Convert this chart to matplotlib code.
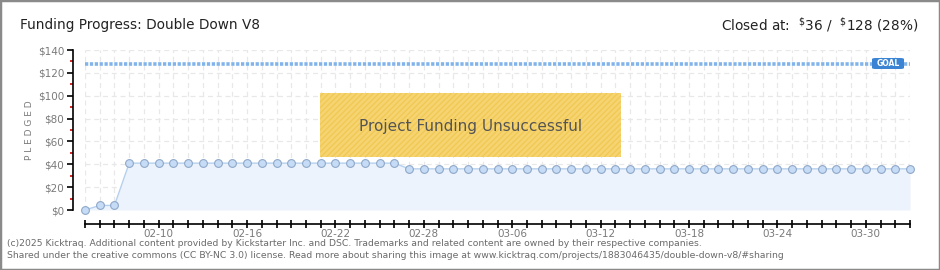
import matplotlib
matplotlib.use("Agg")
import matplotlib.pyplot as plt
import matplotlib.dates as mdates
from matplotlib.patches import Rectangle, FancyBboxPatch
import numpy as np
import pandas as pd

# ---- data ----
start_date = "2025-02-05"
pledged = [0, 4, 4,
           41, 41, 41, 41, 41, 41, 41, 41, 41, 41, 41, 41, 41, 41, 41, 41, 41, 41, 41,
           36, 36, 36, 36, 36, 36, 36, 36, 36, 36, 36, 36, 36, 36, 36, 36, 36, 36, 36,
           36, 36, 36, 36, 36, 36, 36, 36, 36, 36, 36, 36, 36, 36, 36, 36]
goal = 128
tick_labels = ["02-10", "02-16", "02-22", "02-28", "03-06", "03-12", "03-18", "03-24", "03-30"]
y_ticks = [0, 20, 40, 60, 80, 100, 120, 140]
title = "Funding Progress: Double Down V8"
closed_text = r"Closed at:  $^{\$}$36 /  $^{\$}$128 (28%)"
banner = "Project Funding Unsuccessful"
footer1 = ("(c)2025 Kicktraq. Additional content provided by Kickstarter Inc. and DSC. "
           "Trademarks and related content are owned by their respective companies.")
footer2 = ("Shared under the creative commons (CC BY-NC 3.0) license. Read more about sharing "
           "this image at www.kicktraq.com/projects/1883046435/double-down-v8/#sharing")

dates = pd.date_range(start_date, periods=len(pledged), freq="D")
xd = mdates.date2num(dates.to_pydatetime())
tick_dates = [mdates.date2num(pd.Timestamp("2025-" + t).to_pydatetime()) for t in tick_labels]

W, H = 940, 270
fig = plt.figure(figsize=(W / 100, H / 100), dpi=100)
fig.patch.set_facecolor("white")

L, R, T, B = 85, 910, 50, 210
ax = fig.add_axes([L / W, 1 - B / H, (R - L) / W, (B - T) / H])
ax.set_facecolor("none")
ax.set_xlim(xd[0], xd[-1])
ax.set_ylim(0, 140)

# grid
for x in xd:
    ax.axvline(x, color="#e8e8e8", lw=0.9, ls=(0, (4, 3)), zorder=0)
for y in y_ticks:
    ax.axhline(y, color="#e8e8e8", lw=0.9, ls=(0, (4, 3)), zorder=0)

# fill + line + markers
ax.fill_between(xd, pledged, 0, color="#ecf3fc", zorder=1, lw=0)
ax.plot(xd, pledged, color="#b5d0ee", lw=1, zorder=2, clip_on=False)
ax.plot(xd, pledged, ls="none", marker="o", ms=5.6, mfc="#c6dcf6", mec="#8fa8c8",
        mew=0.8, zorder=3, clip_on=False)

# goal line
ax.plot([xd[0], xd[-1]], [goal, goal], color="#82b4ea", lw=2.6,
        ls=(0, (0.9, 0.45)), zorder=2, clip_on=False)

# spines
for s in ["top", "right"]:
    ax.spines[s].set_visible(False)
ax.spines["left"].set_position(("outward", 9))
ax.spines["bottom"].set_position(("outward", 10))
ax.spines["left"].set_color("black")
ax.spines["bottom"].set_color("black")
ax.spines["left"].set_linewidth(1.2)
ax.spines["bottom"].set_linewidth(1.2)

ax.set_yticks(y_ticks)
ax.set_yticklabels(["\\$%d" % v for v in y_ticks])
ax.set_yticks([10, 30, 50, 70, 90, 110, 130], minor=True)
ax.tick_params(axis="y", which="major", length=4, width=1.2, color="black",
               labelsize=7.5, labelcolor="#7a7a7a", pad=2)
ax.tick_params(axis="y", which="minor", length=2.5, width=1.2, color="#dd0000")

ax.set_xticks(tick_dates)
ax.set_xticklabels(tick_labels)
ax.set_xticks(xd, minor=True)
ax.tick_params(axis="x", which="both", direction="inout", length=6, width=1.2,
               color="black", labelsize=7.5, labelcolor="#7a7a7a", pad=1)

ax.set_ylabel("P L E D G E D", fontsize=6.5, color="#7a7a7a", labelpad=3)

# banner
fig.patches.append(Rectangle((320 / W, 1 - 157 / H), 301 / W, 64 / H,
                             transform=fig.transFigure, facecolor="#f7d472",
                             edgecolor="#f0c955", hatch="//////", lw=0, zorder=5))
fig.text(470.5 / W, 1 - 126 / H, banner, fontsize=11, color="#555555",
         ha="center", va="center", zorder=6)

# goal badge
fig.patches.append(FancyBboxPatch((872 / W, 1 - 69 / H), 32 / W, 11 / H,
                                  boxstyle="round,pad=0,rounding_size=0.004",
                                  transform=fig.transFigure, facecolor="#3b84d4",
                                  edgecolor="none", zorder=6))
fig.text(888 / W, 1 - 63.5 / H, "GOAL", fontsize=5.5, color="white",
         ha="center", va="center", fontweight="bold", zorder=7)

# titles
fig.text(20 / W, 1 - 25 / H, title, fontsize=9.8, color="#222222", va="center", ha="left")
fig.text(918 / W, 1 - 25 / H, closed_text, fontsize=9.8, color="#222222", va="center", ha="right")

# footer
fig.text(7 / W, 1 - 243 / H, footer1, fontsize=6.7, color="#6a6a6a", va="center")
fig.text(7 / W, 1 - 256 / H, footer2, fontsize=6.7, color="#6a6a6a", va="center")

# border
fig.patches.append(Rectangle((0, 0), 1, 1, transform=fig.transFigure, fill=False,
                             edgecolor="#8a8a8a", lw=2.5))

fig.savefig("out.png", dpi=100)
